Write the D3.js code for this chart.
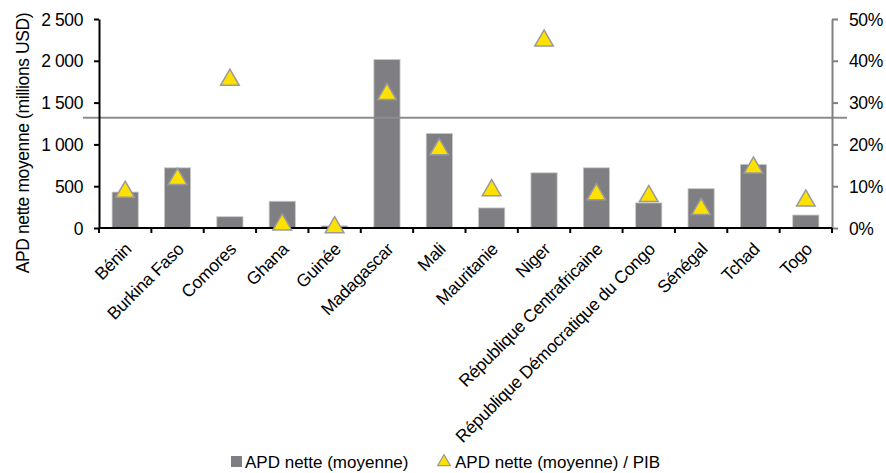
<!DOCTYPE html>
<html><head><meta charset="utf-8">
<script src="https://cdn.jsdelivr.net/npm/d3@7"></script>
<style>
body{margin:0;background:#fff;}
text{font-family:"Liberation Sans",Arial,sans-serif;fill:#000;}
</style></head>
<body><svg id="c" width="886" height="473"></svg>
<script>
const categories = ["Bénin","Burkina Faso","Comores","Ghana","Guinée","Madagascar","Mali","Mauritanie","Niger","République Centrafricaine","République Démocratique du Congo","Sénégal","Tchad","Togo"];
const apdValues = [430, 720, 135, 320, 25, 2015, 1130, 240, 660, 720, 300, 470, 760, 155];
const apdPibPct = [9.1, 12.2, 35.9, 1.3, 0.6, 32.5, 19.3, 9.5, 45.3, 8.5, 8.1, 5.0, 14.9, 7.0];
const leftTicks = [0, 500, 1000, 1500, 2000, 2500];
const rightTicks = [0, 10, 20, 30, 40, 50];
const refLinePct = 26.4;
const seriesNames = ["APD nette (moyenne)", "APD nette (moyenne) / PIB"];

const svg = d3.select("#c");
const L = 99, R = 832, T = 19, B = 228;
const x = d3.scaleBand().domain(categories).range([L, R]).paddingInner(0.5).paddingOuter(0.25);
const xb = d3.scaleBand().domain(categories).range([L, R]);
const yL = d3.scaleLinear().domain([0, 2500]).range([B, T]);
const yR = d3.scaleLinear().domain([0, 50]).range([B, T]);
const fmt = d => d3.format(",")(d).replace(/,/g, " ");

// bars
svg.append("g").selectAll("rect").data(categories).join("rect")
  .attr("x", d => x(d)).attr("width", x.bandwidth())
  .attr("y", (d,i) => yL(apdValues[i])).attr("height", (d,i) => B - yL(apdValues[i]))
  .attr("fill", "#7f7f83").attr("stroke", "#c8c8c8").attr("stroke-width", 0.8);

// reference line
svg.append("line").attr("x1", 83).attr("x2", 847)
  .attr("y1", yR(refLinePct)).attr("y2", yR(refLinePct))
  .attr("stroke", "#8c8c8c").attr("stroke-width", 2);

// left axis
const gL = svg.append("g").attr("transform", `translate(${L},0)`)
  .call(d3.axisLeft(yL).tickValues(leftTicks).tickFormat(fmt).tickSize(5).tickSizeOuter(0));
gL.select(".domain").attr("stroke", "#000").attr("stroke-width", 2);
gL.selectAll(".tick line").attr("stroke", "#000").attr("stroke-width", 2);
gL.selectAll("text").attr("font-size", 17.5).attr("letter-spacing", "-0.4px").attr("x", -16).attr("dy", "0.35em");

// right axis
const gR = svg.append("g").attr("transform", `translate(${R},0)`)
  .call(d3.axisRight(yR).tickValues(rightTicks).tickFormat(d => d + "%").tickSize(6).tickSizeOuter(0));
gR.select(".domain").attr("stroke", "#808080").attr("stroke-width", 2);
gR.selectAll(".tick line").attr("stroke", "#808080").attr("stroke-width", 2);
gR.selectAll("text").attr("font-size", 17.5).attr("letter-spacing", "-0.4px").attr("x", 17).attr("dy", "0.35em");

// x axis
const boundaries = categories.map(c => xb(c)).concat([R]);
svg.append("line").attr("x1", L).attr("x2", R).attr("y1", B).attr("y2", B)
  .attr("stroke", "#000").attr("stroke-width", 2);
svg.append("g").selectAll("line").data(boundaries).join("line")
  .attr("x1", d => d).attr("x2", d => d).attr("y1", B).attr("y2", B + 5)
  .attr("stroke", "#000").attr("stroke-width", 2);
svg.append("g").selectAll("text").data(categories).join("text")
  .attr("transform", d => `translate(${xb(d) + xb.bandwidth()/2 + 3},${B + 18}) rotate(-45)`)
  .attr("text-anchor", "end").attr("dy", "0.35em")
  .attr("font-size", 17.5).attr("letter-spacing", "-0.3px")
  .text(d => d);

// triangles
const tri = d3.symbol().type(d3.symbolTriangle).size(150);
svg.append("g").selectAll("path").data(categories).join("path")
  .attr("d", tri)
  .attr("transform", (d,i) => `translate(${xb(d) + xb.bandwidth()/2},${yR(apdPibPct[i]) + 2})`)
  .attr("fill", "#ffe100").attr("stroke", "#9a9a9a").attr("stroke-width", 1.5);

// y title
svg.append("text").attr("transform", "translate(29,143) rotate(-90)")
  .attr("text-anchor", "middle").attr("font-size", 17.5).attr("letter-spacing", "-0.4px")
  .text("APD nette moyenne (millions USD)");

// legend
const lg = svg.append("g");
lg.append("rect").attr("x", 231).attr("y", 456).attr("width", 11).attr("height", 11).attr("fill", "#7f7f83");
lg.append("text").attr("x", 245).attr("y", 468).attr("font-size", 17).text(seriesNames[0]);
lg.append("path").attr("d", d3.symbol().type(d3.symbolTriangle).size(70))
  .attr("transform", "translate(444,462)").attr("fill", "#ffe100").attr("stroke", "#9a9a9a").attr("stroke-width", 1.2);
lg.append("text").attr("x", 455).attr("y", 468).attr("font-size", 17).text(seriesNames[1]);
</script></body></html>
